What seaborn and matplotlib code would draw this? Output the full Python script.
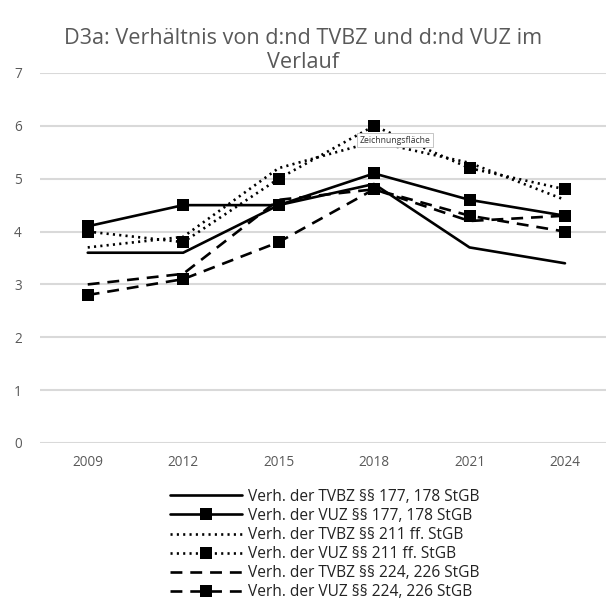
import matplotlib
matplotlib.use("Agg")
import matplotlib.pyplot as plt
import seaborn as sns
import pandas as pd

years = ["2009", "2012", "2015", "2018", "2021", "2024"]

tvbz_177 = [3.6, 3.6, 4.5, 4.9, 3.7, 3.4]
vuz_177 = [4.1, 4.5, 4.5, 5.1, 4.6, 4.3]
tvbz_211 = [3.7, 3.9, 5.2, 5.7, 5.3, 4.6]
vuz_211 = [4.0, 3.8, 5.0, 6.0, 5.2, 4.8]
tvbz_224 = [3.0, 3.2, 4.6, 4.8, 4.2, 4.3]
vuz_224 = [2.8, 3.1, 3.8, 4.8, 4.3, 4.0]

labels = [
    "Verh. der TVBZ §§ 177, 178 StGB",
    "Verh. der VUZ §§ 177, 178 StGB",
    "Verh. der TVBZ §§ 211 ff. StGB",
    "Verh. der VUZ §§ 211 ff. StGB",
    "Verh. der TVBZ §§ 224, 226 StGB",
    "Verh. der VUZ §§ 224, 226 StGB",
]
series = [tvbz_177, vuz_177, tvbz_211, vuz_211, tvbz_224, vuz_224]

sns.set_theme(style="whitegrid")
plt.rcParams['font.family'] = ['Open Sans', 'DejaVu Sans']

dotted = (0, (0.8, 1.6))
dashed = (0, (4.5, 3))
styles = ["-", "-", dotted, dotted, dashed, dashed]
markers = [None, "s", None, "s", None, "s"]

fig = plt.figure(figsize=(6.06, 6.07), dpi=100)
ax = fig.add_axes([40 / 606, 1 - 443 / 607, 572.7 / 606, 370 / 607])

x = list(range(len(years)))
for vals, lab, ls, mk in zip(series, labels, styles, markers):
    df = pd.DataFrame({"x": x, "y": vals})
    sns.lineplot(data=df, x="x", y="y", ax=ax, color="black", linewidth=1.9,
                 linestyle=ls, marker=mk, markersize=9, markeredgewidth=0,
                 label=lab, legend=False)

ax.set_xlim(-0.5, 5.5)
ax.set_ylim(0, 7)
ax.set_yticks(range(0, 8))
ax.set_xticks(x)
ax.set_xticklabels(years)
ax.set_xlabel("")
ax.set_ylabel("")
ax.grid(axis="x", visible=False)
ax.grid(axis="y", color="#d9d9d9", linewidth=1.5)
for s in ax.spines.values():
    s.set_visible(False)
ax.tick_params(axis="y", length=0, pad=13, labelsize=9.8, labelcolor="#595959")
ax.tick_params(axis="x", length=0, pad=9, labelsize=9.8, labelcolor="#595959")

fig.text(0.5, 1 - 50.5 / 607, "D3a: Verhältnis von d:nd TVBZ und d:nd VUZ im\nVerlauf",
         ha="center", va="center", fontsize=15.6, color="#595959", linespacing=1.17)

# Excel-Tooltip
fig.text(360 / 606, 1 - 140 / 607, "Zeichnungsfläche", ha="left", va="center",
         fontsize=6.2, color="#333333",
         bbox=dict(boxstyle="square,pad=0.3", fc="white", ec="#bbbbbb", lw=0.6))

handles, labs = ax.get_legend_handles_labels()
fig.legend(handles, labs, loc="upper center", bbox_to_anchor=(325 / 606, 1 - 481 / 607),
           frameon=False, ncol=1, numpoints=1, handlelength=4.6, handletextpad=0.42,
           labelspacing=0.2, fontsize=11.2, labelcolor="#222222", borderpad=0)

fig.savefig("out.png", dpi=100)
